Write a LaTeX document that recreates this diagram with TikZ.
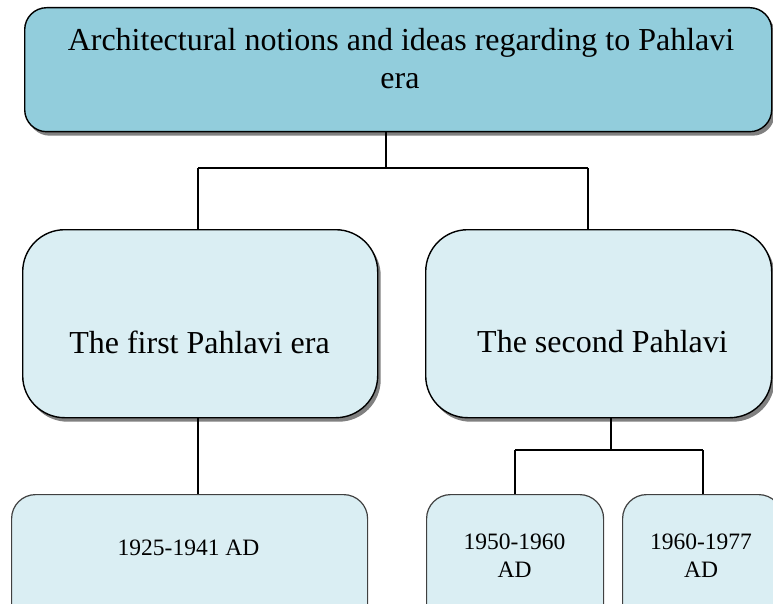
\documentclass[tikz,border=0pt]{standalone}
\usepackage{fontspec}
\setmainfont{Liberation Serif}
\usetikzlibrary{shadows}
\definecolor{topfill}{HTML}{92CDDC}
\definecolor{lightfill}{HTML}{DAEEF3}
\definecolor{graybord}{HTML}{404040}
\begin{document}
\begin{tikzpicture}[x=1pt,y=-1pt,
  bigbox/.style={draw=black,line width=1.4pt,inner sep=0pt,anchor=north west,
    drop shadow={shadow xshift=3pt,shadow yshift=-4pt,fill=black!50,opacity=1}},
  smallbox/.style={draw=graybord,line width=1.2pt,fill=lightfill,inner sep=0pt,anchor=north west,rounded corners=24pt},
  bigtxt/.style={anchor=base,inner sep=0pt,font=\fontsize{32}{38}\selectfont},
  smalltxt/.style={anchor=base,inner sep=0pt,font=\fontsize{23.5}{28}\selectfont},
  conn/.style={draw=black,line width=1.3pt}]
\useasboundingbox (0,0) rectangle (773,604);
\clip (0,0) rectangle (773,604);
% boxes
\node[bigbox,fill=topfill,rounded corners=22pt,minimum width=747pt,minimum height=124pt] (top) at (24,7) {};
\node[bigbox,fill=lightfill,rounded corners=42pt,minimum width=355pt,minimum height=188pt] (mL) at (22,229) {};
\node[bigbox,fill=lightfill,rounded corners=42pt,minimum width=346pt,minimum height=188pt] (mR) at (425,229) {};
\node[smallbox,minimum width=356pt,minimum height=150pt] (bL) at (11,494) {};
\node[smallbox,minimum width=177pt,minimum height=150pt] (bM) at (426,494) {};
\node[smallbox,minimum width=160pt,minimum height=150pt] (bR) at (622,494) {};
% texts
\node[bigtxt] (t1) at (401,51) {Architectural notions and ideas regarding to Pahlavi};
\node[bigtxt] (t2) at (400,89) {era};
\node[bigtxt] (tL) at (199.5,353) {The first Pahlavi era};
\node[bigtxt] (tR) at (602.5,352) {The second Pahlavi};
\node[smalltxt] (tbL) at (188.5,555) {1925-1941 AD};
\node[smalltxt] (tbM1) at (514.5,549) {1950-1960};
\node[smalltxt] (tbM2) at (514.5,577) {AD};
\node[smalltxt] (tbR1) at (701,549) {1960-1977};
\node[smalltxt] (tbR2) at (701,577) {AD};
% connectors
\coordinate (j1) at (386,168);
\coordinate (hL) at (198,168);
\coordinate (hR) at (588,168);
\draw[conn] (top.south -| j1) -- (j1);
\draw[conn] (hL) -- (hR);
\draw[conn] (hL) -- (mL.north -| hL);
\draw[conn] (hR) -- (mR.north -| hR);
\draw[conn] (mL.south -| hL) -- (bL.north -| hL);
\coordinate (j2) at (611,450);
\coordinate (gL) at (515,450);
\coordinate (gR) at (703,450);
\draw[conn] (mR.south -| j2) -- (j2);
\draw[conn] (gL) -- (gR);
\draw[conn] (gL) -- (bM.north -| gL);
\draw[conn] (gR) -- (bR.north -| gR);
\end{tikzpicture}
\end{document}
